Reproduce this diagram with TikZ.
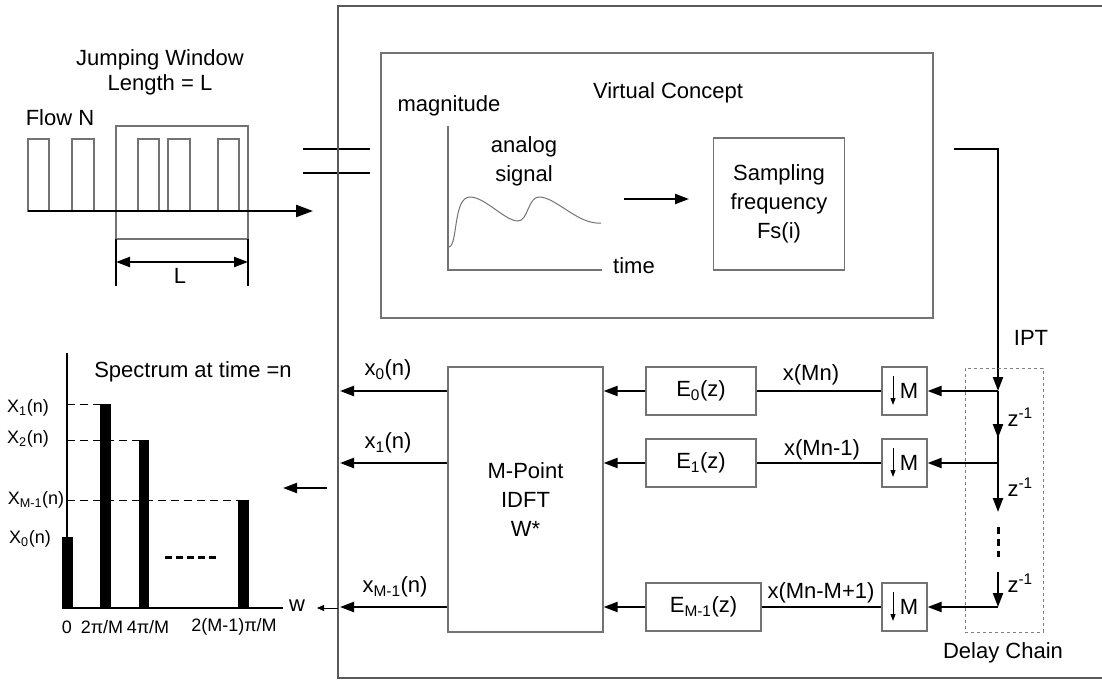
\documentclass[tikz,border=0pt]{standalone}
\usepackage{fontspec}
\setmainfont{Liberation Sans}
\usetikzlibrary{arrows.meta}

\tikzset{
    box/.style={draw=gray!90!black, line width=1.2pt},
    blk/.style={box, rectangle, inner sep=0pt},
    wire/.style={line width=2.2pt},
    sig/.style={wire, -{Triangle[length=14pt,width=10pt]}},
    guide/.style={line width=1pt, dash pattern=on 8pt off 5pt},
    lbl/.style={font=\fontsize{22}{26}\selectfont},
    ticklbl/.style={font=\fontsize{18}{21}\selectfont},
}

\begin{document}
\begin{tikzpicture}[x=1pt, y=-1pt]
    \useasboundingbox (0,0) rectangle (1102,682);

    % 跳动窗口
    \begin{scope}
        \node[lbl] (jw) at (160,60) {Jumping Window};
        \node[lbl] (len) at (160,85) {Length = L};
        \node[lbl] (flow) at (60,118) {Flow N};
        \foreach \a/\b in {28/49, 72/94, 138/159, 168/190, 218/239}
            \draw[box] (\a,211) rectangle (\b,139);
        \draw[box] (116,239) rectangle (248,126);
        \coordinate (ax0) at (28,211);
        \coordinate (ax1) at (313,211);
        \draw[wire, -{Triangle[length=17pt,width=12pt]}] (ax0) -- (ax1);
        \draw[wire] (116,239) -- (116,286);
        \draw[wire] (248,239) -- (248,286);
        \draw[wire, {Triangle[length=14pt,width=10pt]}-{Triangle[length=14pt,width=10pt]}] (116,262) -- (248,262);
        \node[lbl] (lenL) at (180,276) {L};
        \draw[wire] (303,149) -- (370,149);
        \draw[wire] (303,173) -- (370,173);
    \end{scope}

    % 外框
    \draw[draw=gray!70!black, line width=1.6pt] (1102,6) -- (338,6) -- (338,678) -- (1102,678);

    % 虚拟概念
    \begin{scope}
        \node[blk, minimum width=552pt, minimum height=265pt] (vc) at (657,185.5) {};
        \node[lbl] (vctitle) at (668,93) {Virtual Concept};
        \node[lbl] (mag) at (449,106) {magnitude};
        \draw[box] (448,126) -- (448,270) -- (602,270);
        \node[lbl] (time) at (634,266) {time};
        \node[lbl, align=center, font=\fontsize{22}{29}\selectfont] (analog) at (524,161) {analog\\signal};
        \draw[box, line width=1pt] (449,247) .. controls (458,245) and (453,197) .. (470,197)
            .. controls (485,197) and (505,221) .. (518,221)
            .. controls (528,221) and (528,197) .. (539,197)
            .. controls (556,197) and (578,225) .. (601,223);
        \node[blk, minimum width=131pt, minimum height=132pt, align=center,
            font=\fontsize{22}{29}\selectfont] (samp) at (779,204) {Sampling\\frequency\\Fs(i)};
        \coordinate (as0) at (624,199);
        \coordinate (as1) at (689,199);
        \draw[sig] (as0) -- (as1);
    \end{scope}

    % 延迟链
    \coordinate (ipt0) at (954,149);
    \coordinate (j0) at (998,391);
    \coordinate (j1) at (998,463);
    \coordinate (j2) at (998,607);
    \coordinate (d0) at (998,438);
    \coordinate (d1) at (998,512);
    \coordinate (d2) at (998,527);
    \coordinate (d3) at (998,557);
    \coordinate (d4) at (998,572);
    \draw[sig] (ipt0) -- (998,149) -- (j0);
    \node[lbl] (ipt) at (1031,338) {IPT};
    \draw[wire] (j0) -- (j1);
    \draw[sig] (j0) -- (d0);
    \draw[sig] (j1) -- (d1);
    \draw[line width=3pt, dash pattern=on 7pt off 5pt] (d2) -- (d3);
    \draw[sig] (d4) -- (j2);
    \foreach \y in {417, 487, 583}
        \node[lbl, anchor=west] at (1004,\y) {z\textsuperscript{-1}};
    \node[draw=gray, line width=1pt, dashed, minimum width=78pt, minimum height=264pt] (chain) at (1004,500) {};
    \node[lbl] (delay) at (1003,653) {Delay Chain};

    % 抽取与多相滤波
    \foreach \i/\y in {0/391, 1/463, 2/607} {
        \node[blk, lbl, minimum width=45pt, minimum height=48pt] (m\i) at (904.5,\y) {\hspace{9pt}M};
        \draw[line width=1pt, -{Triangle[length=7pt,width=5pt]}] ([shift={(-11.5,-15)}]m\i.center) -- ++(0,29);
        \draw[sig] (j\i) -- (m\i);
    }
    \node[blk, lbl, minimum width=110pt, minimum height=48pt] (e0) at (701,391) {E\textsubscript{0}(z)};
    \node[blk, lbl, minimum width=110pt, minimum height=48pt] (e1) at (701,463) {E\textsubscript{1}(z)};
    \node[blk, lbl, minimum width=115pt, minimum height=48pt] (e2) at (703.5,607) {E\textsubscript{M-1}(z)};
    \foreach \i in {0,1,2}
        \draw[wire] (m\i) -- (e\i);
    \node[lbl] (xmn0) at (811,375) {x(Mn)};
    \node[lbl] (xmn1) at (822,450) {x(Mn-1)};
    \node[lbl] (xmn2) at (821,593) {x(Mn-M+1)};

    % IDFT
    \node[blk, lbl, minimum width=155pt, minimum height=265pt, align=center,
        font=\fontsize{22}{29}\selectfont] (idft) at (525.5,499.5) {M-Point\\IDFT\\W*};
    \coordinate (o0) at (340,391);
    \coordinate (o1) at (340,463);
    \coordinate (o2) at (340,607);
    \foreach \i in {0,1,2} {
        \draw[sig] (e\i.west) -- (e\i.west -| idft.east);
        \draw[sig] (o\i -| idft.west) -- (o\i);
    }
    \node[lbl] (x0) at (388,370) {x\textsubscript{0}(n)};
    \node[lbl] (x1) at (388,443) {x\textsubscript{1}(n)};
    \node[lbl] (x2) at (395,587) {x\textsubscript{M-1}(n)};

    % 频谱
    \begin{scope}
        \node[lbl] (spec) at (193,372) {Spectrum at time =n};
        \foreach \l/\r/\t in {62/73/537, 100/111/404, 139/149/440, 238/249/500}
            \fill (\l,608) rectangle (\r,\t);
        \draw[guide] (67,404) -- (100,404);
        \draw[guide] (67,440) -- (149,440);
        \draw[guide] (67,500) -- (249,500);
        \draw[wire] (67,353) -- (67,608);
        \draw[wire] (62,608) -- (283,608);
        \draw[line width=3pt, dash pattern=on 7pt off 4pt] (165,557) -- (217,557);
        \node[ticklbl] (lx1) at (28,408) {X\textsubscript{1}(n)};
        \node[ticklbl] (lx2) at (28,439) {X\textsubscript{2}(n)};
        \node[ticklbl] (lx3) at (36,500) {X\textsubscript{M-1}(n)};
        \node[ticklbl] (lx0) at (30,539) {X\textsubscript{0}(n)};
        \node[ticklbl] (t0) at (67,627) {0};
        \node[ticklbl] (t1) at (102,627) {2π/M};
        \node[ticklbl] (t2) at (148,627) {4π/M};
        \node[ticklbl] (t3) at (234,627) {2(M-1)π/M};
        \node[lbl] (w) at (297,606) {w};
        \coordinate (w0) at (338,608);
        \coordinate (w1) at (317,608);
        \draw[line width=0.8pt, -{Triangle[length=7pt,width=6pt]}] (w0) -- (w1);
        \coordinate (sp0) at (327,488);
        \coordinate (sp1) at (283,488);
        \draw[sig] (sp0) -- (sp1);
    \end{scope}
\end{tikzpicture}
\end{document}
